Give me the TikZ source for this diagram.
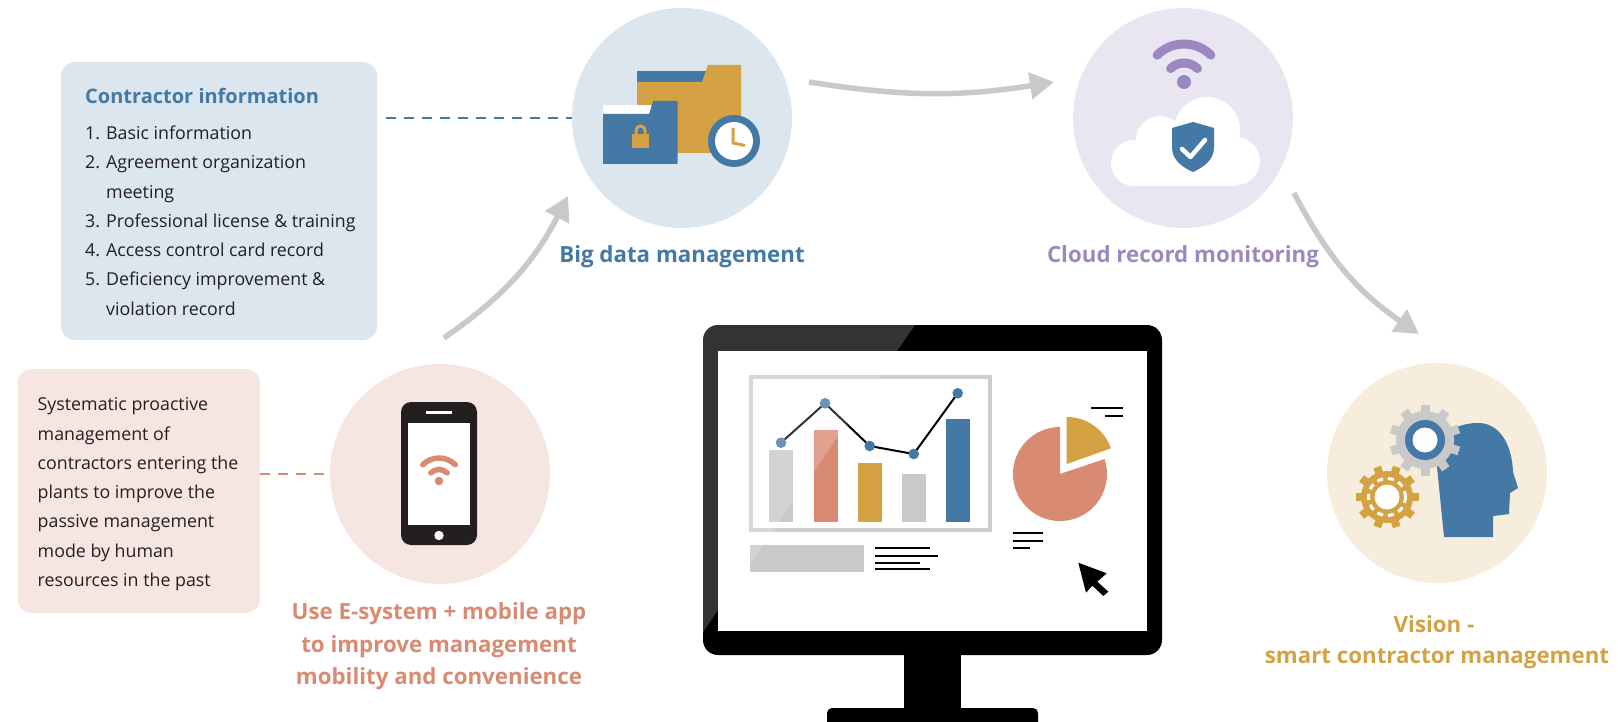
\documentclass[tikz,border=0pt]{standalone}
\usepackage{fontspec}
\setmainfont{Open Sans}
\usetikzlibrary{arrows.meta}

\definecolor{ink}{HTML}{231F20}
\definecolor{steel}{HTML}{4479A6}
\definecolor{paleblue}{HTML}{DCE6EF}
\definecolor{blush}{HTML}{F6E6E1}
\definecolor{salmon}{HTML}{D98A73}
\definecolor{lavender}{HTML}{E9E6F2}
\definecolor{violet}{HTML}{9C87C1}
\definecolor{cream}{HTML}{F6EDDC}
\definecolor{ochre}{HTML}{D4A243}
\definecolor{ash}{HTML}{C8C9C8}

\begin{document}
\begin{tikzpicture}[x=1pt,y=-1pt,
  hub/.style={circle, minimum size=220pt, inner sep=0pt},
  panel/.style={rounded corners=14pt, inner sep=0pt},
  body/.style={anchor=base west, inner sep=0pt, text=ink, font=\fontsize{17.8}{29}\selectfont},
  caption/.style={anchor=base, inner sep=0pt, font=\fontsize{22.3}{31}\selectfont\bfseries},
  flow/.style={draw=ash, line width=5.5pt, -{Triangle[length=24pt,width=26pt]}},
  tether/.style={line width=2pt, dash pattern=on 10pt off 8pt},
  wave/.style={line cap=round},
]
\useasboundingbox (0,0) rectangle (1618,722);

% ---------- text panels ----------
\node[panel, fill=paleblue, minimum width=316pt, minimum height=278pt] (info) at (219,201) {};
\node[panel, fill=blush, minimum width=242.5pt, minimum height=244pt] (sys) at (138.75,491) {};

\node[body, font=\fontsize{20}{24}\selectfont\bfseries, text=steel] (ttl) at (85,104) {Contractor information};
\foreach \yy/\num/\txt [count=\k] in {139.3/1./Basic information, 168.7/2./Agreement organization,
    227.7/3./Professional license \& training, 256.7/4./Access control card record,
    286/5./Deficiency improvement \&} {
  \node[body] (num\k) at (85,\yy) {\num};
  \node[body] (item\k) at (106,\yy) {\txt};
}
\node[body] (item2b) at (106,198.3) {meeting};
\node[body] (item5b) at (106,315.3) {violation record};

\foreach \yy/\txt [count=\k] in {410.7/Systematic proactive, 440/management of,
    469.3/contractors entering the, 498.5/plants to improve the, 527.8/passive management,
    557/mode by human, 586.3/resources in the past} {
  \node[body] (sysl\k) at (37.5,\yy) {\txt};
}

% ---------- stage circles ----------
\node[hub, fill=paleblue] (bd) at (682,118) {};
\node[hub, fill=lavender] (cl) at (1183,118) {};
\node[hub, fill=blush] (mob) at (440,474) {};
\node[hub, fill=cream] (vis) at (1437,473) {};

% dashed tethers
\draw[tether, steel, shorten <=9pt] (info.east |- bd.west) -- (bd.west);
\draw[tether, salmon] (sys.east |- mob.west) -- (mob.west);

% ---------- captions ----------
\node[caption, text=steel] (bdl) at (682,262) {Big data management};
\node[caption, text=violet] (cll) at (1183,263) {Cloud record monitoring};
\node[caption, text=salmon] (mobl1) at (439,619) {Use E-system + mobile app};
\node[caption, text=salmon] (mobl2) at (439,652) {to improve management};
\node[caption, text=salmon] (mobl3) at (439,684.5) {mobility and convenience};
\node[caption, text=ochre] (visl1) at (1434,632) {Vision -};
\node[caption, text=ochre] (visl2) at (1437,663) {smart contractor management};

% ---------- flow arrows ----------
\coordinate (a1s) at (444,338);  \coordinate (a1e) at (568,196);
\coordinate (a2s) at (809,82);   \coordinate (a2e) at (1054,82);
\coordinate (a3s) at (1294,193); \coordinate (a3e) at (1419,334);
\draw[flow] (a1s) to[bend right=14] (a1e);
\draw[flow] (a2s) to[bend right=9] (a2e);
\draw[flow] (a3s) to[bend right=14] (a3e);

% ---------- folders with lock and clock ----------
\fill[steel] (637,71) rectangle (706,82);
\fill[ochre] (637,153) -- (637,82) -- (702,82) -- (708,65) -- (741,65) -- (741,153) -- cycle;
\fill[white] (603,105) rectangle (651,114);
\fill[steel] (603,164) -- (603,114) -- (649,114) -- (653.5,101) -- (677.5,101) -- (677.5,164) -- cycle;
\fill[ochre] (632,134) rectangle (649,148);
\draw[ochre, line width=3pt] (636,134) -- (636,130.5) arc[start angle=180, end angle=360, radius=4.5] -- (645,134);
\fill[steel] (734,141) circle[radius=26];
\fill[white] (734,141) circle[radius=19];
\draw[ochre, line width=3pt] (733,128) -- (733,143) -- (745,145.5);

% ---------- cloud with shield and signal ----------
\fill[white] (1160,140) circle[radius=24];
\fill[white] (1207,130) circle[radius=33];
\fill[white] (1134,163) circle[radius=23];
\fill[white] (1236,161) circle[radius=24];
\fill[white] (1134,150) rectangle (1236,186);
\fill[steel] (1193,122) -- (1214,128) -- (1214,147) .. controls (1214,160) and (1204,167) .. (1193,172)
  .. controls (1182,167) and (1172,160) .. (1172,147) -- (1172,128) -- cycle;
\draw[white, line width=4.5pt, line cap=round, line join=round] (1182,149) -- (1190.5,157) -- (1205,140);
\fill[violet] (1184,82) circle[radius=7];
\draw[violet, wave, line width=9pt] (1184,82) ++(-45:19) arc[start angle=-45, end angle=-135, radius=19];
\draw[violet, wave, line width=9pt] (1184,82) ++(-45:38) arc[start angle=-45, end angle=-135, radius=38];

% ---------- phone ----------
\fill[ink, rounded corners=10pt] (401,402) rectangle (477,545);
\fill[white] (408,423) rectangle (470,525);
\draw[white, line width=2.5pt] (426,412.5) -- (452,412.5);
\fill[white] (439,535.5) circle[radius=4.7];
\fill[salmon] (439,481) circle[radius=4.3];
\draw[salmon, wave, line width=5.5pt] (439,481) ++(-45:11.5) arc[start angle=-45, end angle=-135, radius=11.5];
\draw[salmon, wave, line width=5.5pt] (439,481) ++(-45:23) arc[start angle=-45, end angle=-135, radius=23];

% ---------- head with gears ----------
\fill[steel] (1437,467) -- (1444,537) -- (1493,537) -- (1493,516) -- (1509,514) -- (1510,493) -- (1518,488)
  -- (1513,472) .. controls (1512,445) and (1500,423) .. (1478,423)
  .. controls (1465,423) and (1455,427) .. (1447,432) -- cycle;
\fill[ash] (1425,440) circle[radius=29];
\foreach \a in {0,36,...,324}
  \fill[ash, rotate around={\a:(1425,440)}] (1420.5,404.5) rectangle (1429.5,414);
\fill[steel] (1425,440) circle[radius=20];
\fill[white] (1425,440) circle[radius=12.5];
\fill[ochre] (1387,497) circle[radius=26];
\foreach \a in {18,54,...,342}
  \fill[ochre, rotate around={\a:(1387,497)}] (1383,465.5) rectangle (1391,474);
\fill[white] (1387,497) circle[radius=12.5];
\draw[white, line width=3pt, dash pattern=on 6pt off 5pt] (1387,497) circle[radius=18.5];

% ---------- monitor ----------
\fill[black, rounded corners=15pt] (703,325) rectangle (1162,655);
\fill[white] (718,351) rectangle (1147,631);
\fill[black] (904,654) rectangle (961,709);
\fill[black, rounded corners=5pt] (827,708) rectangle (1038,735);

% bar chart
\draw[ash!90!white, line width=4pt] (751,377) rectangle (989.7,529.7);
\fill[ash] (769,450) rectangle (793,521.5);
\fill[salmon] (814,430) rectangle (838,521.5);
\fill[ochre] (858,462.7) rectangle (882,521.5);
\fill[ash] (902,474) rectangle (926,521.5);
\fill[steel] (946,419) rectangle (970,521.5);
\draw[black, line width=2pt] (781,442.7) -- (825,403.3) -- (869.7,446) -- (913.7,454) -- (957.7,393.3);
\foreach \p in {(781,442.7),(825,403.3),(869.7,446),(913.7,454),(957.7,393.3)}
  \fill[steel] \p circle[radius=5.3];

% pie chart
\fill[salmon] (1060,474) -- ++(-90:47) arc[start angle=-90, end angle=-378.6, radius=47] -- cycle;
\fill[ochre] (1066.7,464) -- ++(-19.5:47) arc[start angle=-19.5, end angle=-90, radius=47] -- cycle;

% text strokes and block
\fill[ash] (750,545) rectangle (864,571.7);
\begin{scope}[black, line width=2.3pt]
  \draw (1091,408.3) -- (1122.7,408.3);
  \draw (1105,416) -- (1122.7,416);
  \draw (1012.7,533.3) -- (1043.3,533.3);
  \draw (1012.7,540.7) -- (1043.3,540.7);
  \draw (1012.7,548.3) -- (1030,548.3);
  \draw (875,548.3) -- (930,548.3);
  \draw (875,555.7) -- (937.7,555.7);
  \draw (875,562.7) -- (920,562.7);
  \draw (875,569.3) -- (930,569.3);
\end{scope}

% cursor
\fill[black] (1078.3,562.7) -- (1106.7,573.3) -- (1097.3,581.7) -- (1108.3,591.7) -- (1103.3,596)
  -- (1092.3,585.7) -- (1086,592.7) -- cycle;

% glare across the monitor
\begin{scope}
  \clip[rounded corners=15pt] (703,325) rectangle (1162,655);
  \fill[white, opacity=0.2] (703,325) -- (915,325) -- (703,632) -- cycle;
\end{scope}
\end{tikzpicture}
\end{document}
